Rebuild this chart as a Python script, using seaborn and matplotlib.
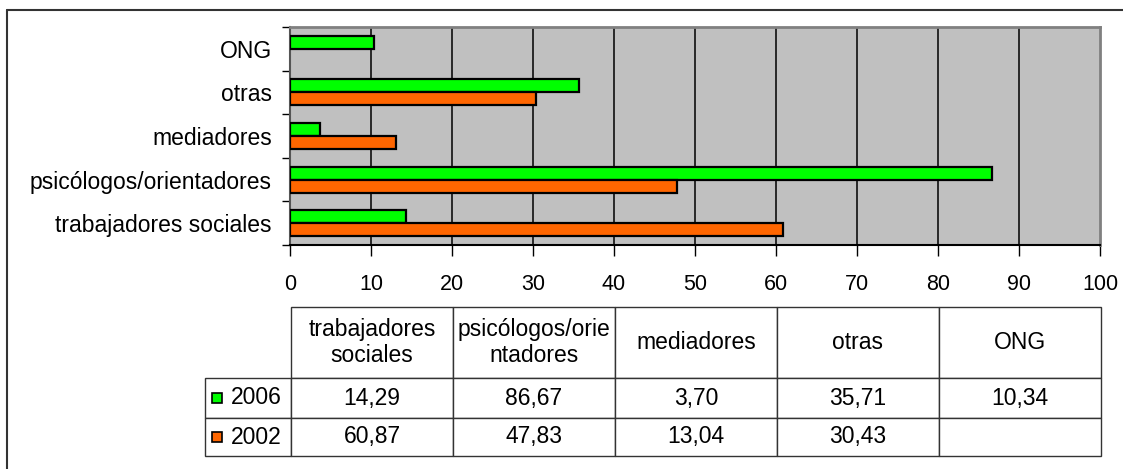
import numpy as np
import pandas as pd
import matplotlib
matplotlib.use("Agg")
import matplotlib.pyplot as plt
from matplotlib.lines import Line2D
import seaborn as sns

categories = ["trabajadores sociales", "psicólogos/orientadores", "mediadores", "otras", "ONG"]
header_labels = ["trabajadores\nsociales", "psicólogos/orie\nntadores", "mediadores", "otras", "ONG"]
years = ["2006", "2002"]
values_2006 = [14.29, 86.67, 3.70, 35.71, 10.34]
values_2002 = [60.87, 47.83, 13.04, 30.43, np.nan]
colors = {"2006": "#00FF00", "2002": "#FF6600"}
xticks = list(range(0, 101, 10))

sns.set_theme(style="white")
plt.rcParams["font.family"] = ["Liberation Sans", "DejaVu Sans"]
plt.rcParams["text.color"] = "black"
plt.rcParams["xtick.color"] = "black"
plt.rcParams["ytick.color"] = "black"
FS = 16.5
FS_X = 15.5

df = pd.DataFrame({
    "cat": categories * 2,
    "year": ["2006"] * 5 + ["2002"] * 5,
    "val": values_2006 + values_2002,
})

W, H = 1123, 469
fig = plt.figure(figsize=(W / 100, H / 100), dpi=100)
ax_l, ax_r, ax_t, ax_b = 290, 1100, 27, 245
ax = fig.add_axes([ax_l / W, 1 - ax_b / H, (ax_r - ax_l) / W, (ax_b - ax_t) / H])

order = categories[::-1]
sns.barplot(data=df, y="cat", x="val", hue="year", order=order, hue_order=years,
            palette=colors, saturation=1, orient="h", width=0.6, edgecolor="black",
            linewidth=1.6, legend=False, ax=ax, zorder=3)

ax.set_facecolor("#C0C0C0")
ax.set_xlim(0, 100)
ax.set_ylim(len(order) - 0.5, -0.5)
ax.set_xticks(xticks)
ax.set_xticklabels([str(v) for v in xticks], fontsize=FS_X, color="black")
ax.set_xlabel("")
ax.set_ylabel("")
ax.grid(False)
for v in xticks[1:-1]:
    ax.axvline(v, color="black", linewidth=1.1, zorder=1)
ax.tick_params(axis="x", which="major", direction="out", length=8, width=1, color="black", pad=13, bottom=True)
ax.tick_params(axis="y", which="major", length=0, pad=13, labelsize=FS, labelcolor="black")
ax.set_yticks(np.arange(-0.5, len(order), 1.0), minor=True)
ax.tick_params(axis="y", which="minor", direction="out", length=6, width=1, color="black", left=True)
for s in ["top", "right"]:
    ax.spines[s].set_color("#808080")
    ax.spines[s].set_linewidth(2)
ax.spines["left"].set_color("#555555")
ax.spines["left"].set_linewidth(1.5)
ax.spines["bottom"].set_color("black")
ax.spines["bottom"].set_linewidth(1.5)

# data table below the chart
def fmt(v):
    return "" if np.isnan(v) else f"{v:.2f}".replace(".", ",")

cell_text = [[years[0]] + [fmt(v) for v in values_2006],
             [years[1]] + [fmt(v) for v in values_2002]]
tx0, tx1, ty0, ty1 = 205, 1101, 307, 456
axw, axh = ax_r - ax_l, ax_b - ax_t
bbox = [(tx0 - ax_l) / axw, (ax_b - ty1) / axh, (tx1 - tx0) / axw, (ty1 - ty0) / axh]
tbl = ax.table(cellText=cell_text, colLabels=[""] + header_labels,
               cellLoc="center", bbox=bbox)
tbl.auto_set_font_size(False)
tbl.set_fontsize(FS)
row_h = {0: 71, 1: 40, 2: 38}
for (r, c), cell in tbl.get_celld().items():
    cell.set_edgecolor("#333333")
    cell.set_linewidth(1.0)
    cell.set_height(row_h[r])
    cell.set_width(86 if c == 0 else 162)
    cell.get_text().set_fontsize(FS)
    cell.get_text().set_color("black")
    if c == 0:
        cell.PAD = 0.3
        cell.get_text().set_horizontalalignment("left")
        cell._loc = "left"
        if r == 0:
            cell.visible_edges = ""
tbl.set_zorder(5)

# legend keys in the row label cells
yc = [ty0 + 71 + 20, ty0 + 71 + 40 + 19]
for yr, y in zip(years, yc):
    fig.add_artist(Line2D([217 / W], [1 - y / H], marker="s", markersize=7.5,
                          markerfacecolor=colors[yr], markeredgecolor="black",
                          markeredgewidth=1.2, linestyle="none"))

# outer chart frame
fig.add_artist(Line2D([7 / W, 1.0], [1 - 10 / H, 1 - 10 / H], color="#333333", linewidth=1.5))
fig.add_artist(Line2D([7 / W, 7 / W], [1 - 10 / H, 0.0], color="#333333", linewidth=1.5))

fig.savefig("out.png", dpi=100)
